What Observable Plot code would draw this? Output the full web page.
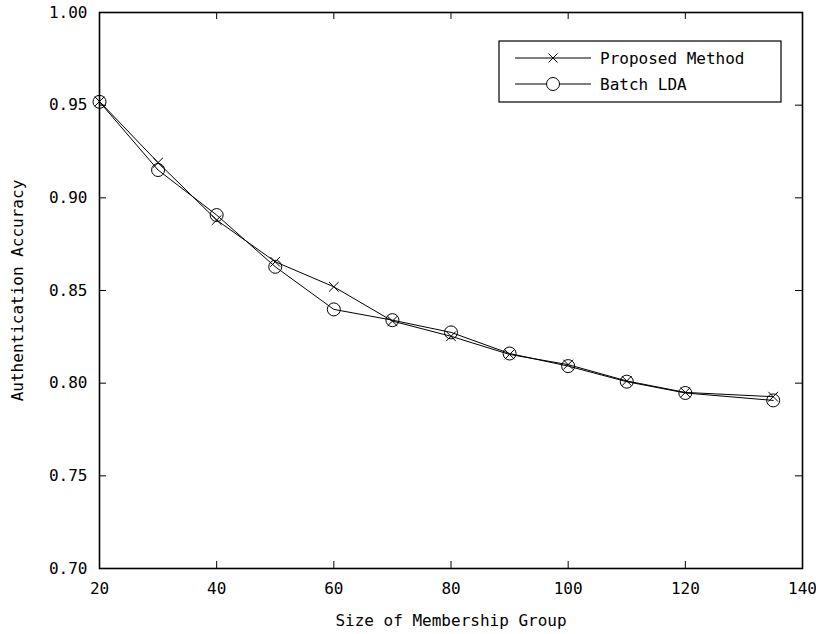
<!DOCTYPE html>
<html>
<head>
<meta charset="utf-8">
<script src="https://cdn.jsdelivr.net/npm/d3@7"></script>
<script src="https://cdn.jsdelivr.net/npm/@observablehq/plot@0.6"></script>
<style>
  html, body { margin: 0; padding: 0; background: #fff; }
  #chart { position: relative; width: 816px; height: 634px; }
  svg text { font-family: "DejaVu Sans Mono", "Liberation Mono", monospace; }
</style>
</head>
<body>
<div id="chart"></div>
<script>
const groupSizes = [20, 30, 40, 50, 60, 70, 80, 90, 100, 110, 120, 135];
const proposedMethod = [0.952, 0.919, 0.888, 0.8655, 0.852, 0.8335, 0.8253, 0.8155, 0.810, 0.8012, 0.795, 0.7927];
const batchLDA = [0.9518, 0.915, 0.8907, 0.8628, 0.8398, 0.834, 0.8274, 0.816, 0.8092, 0.8008, 0.7947, 0.7907];
const seriesNames = ["Proposed Method", "Batch LDA"];
const xTicks = [20, 40, 60, 80, 100, 120, 140];
const yTicks = [0.70, 0.75, 0.80, 0.85, 0.90, 0.95, 1.00];

const data = [];
groupSizes.forEach((g, i) => {
  data.push({series: seriesNames[0], size: g, acc: proposedMethod[i]});
  data.push({series: seriesNames[1], size: g, acc: batchLDA[i]});
});

const W = 816, H = 634;
const mL = 99, mR = 14, mT = 12, mB = 66;
const pw = W - mL - mR, ph = H - mT - mB;
const tickLen = 7;
const fontSize = 16;

const chart = Plot.plot({
  width: W,
  height: H,
  marginLeft: mL,
  marginRight: mR,
  marginTop: mT,
  marginBottom: mB,
  style: {fontSize: fontSize + "px", fontFamily: "DejaVu Sans Mono, monospace", color: "#000", background: "#fff"},
  x: {domain: [20, 140], ticks: xTicks, label: "Size of Membership Group"},
  y: {domain: [0.70, 1.00], ticks: yTicks, label: "Authentication Accuracy"},
  marks: [
    Plot.frame({stroke: "#000", strokeWidth: 1.6}),
    Plot.tickX(xTicks, {x: d => d, insetTop: ph - tickLen, stroke: "#000", strokeWidth: 1}),
    Plot.tickX(xTicks, {x: d => d, insetBottom: ph - tickLen, stroke: "#000", strokeWidth: 1}),
    Plot.tickY(yTicks, {y: d => d, insetRight: pw - tickLen, stroke: "#000", strokeWidth: 1}),
    Plot.tickY(yTicks, {y: d => d, insetLeft: pw - tickLen, stroke: "#000", strokeWidth: 1}),
    Plot.axisX({ticks: xTicks, tickSize: 0, tickPadding: 14, tickFormat: d => String(d),
      label: "Size of Membership Group", labelAnchor: "center", labelArrow: "none", labelOffset: 57}),
    Plot.axisY({ticks: yTicks, tickSize: 0, tickPadding: 12, tickFormat: d => d.toFixed(2),
      label: "Authentication Accuracy", labelAnchor: "center", labelArrow: "none", labelOffset: 88}),
    Plot.line(data, {x: "size", y: "acc", z: "series", stroke: "#000", strokeWidth: 1}),
    Plot.dot(data.filter(d => d.series === seriesNames[1]), {x: "size", y: "acc", r: 6.5, stroke: "#000", fill: "none", strokeWidth: 1}),
    Plot.dot(data.filter(d => d.series === seriesNames[0]), {x: "size", y: "acc", r: 4.5, symbol: "times", stroke: "#000", strokeWidth: 1})
  ]
});

document.getElementById("chart").appendChild(chart);

// Legend box inside the plot
const svg = d3.select(chart);
const lg = svg.append("g").attr("transform", "translate(499,41)");
lg.append("rect").attr("width", 282).attr("height", 61).attr("fill", "#fff").attr("stroke", "#000").attr("stroke-width", 1.2);
seriesNames.forEach((name, i) => {
  const y = 17 + i * 26;
  lg.append("line").attr("x1", 16).attr("x2", 92).attr("y1", y).attr("y2", y).attr("stroke", "#000").attr("stroke-width", 1);
  if (i === 0) {
    const s = 4.5;
    lg.append("path").attr("d", `M${54 - s},${y - s}L${54 + s},${y + s}M${54 - s},${y + s}L${54 + s},${y - s}`)
      .attr("stroke", "#000").attr("stroke-width", 1).attr("fill", "none");
  } else {
    lg.append("circle").attr("cx", 54).attr("cy", y).attr("r", 6.5).attr("fill", "#fff").attr("stroke", "#000").attr("stroke-width", 1);
  }
  lg.append("text").attr("x", 101).attr("y", y).attr("dy", "0.35em").attr("text-anchor", "start")
    .attr("font-size", fontSize).attr("fill", "#000").text(name);
});
</script>
</body>
</html>
